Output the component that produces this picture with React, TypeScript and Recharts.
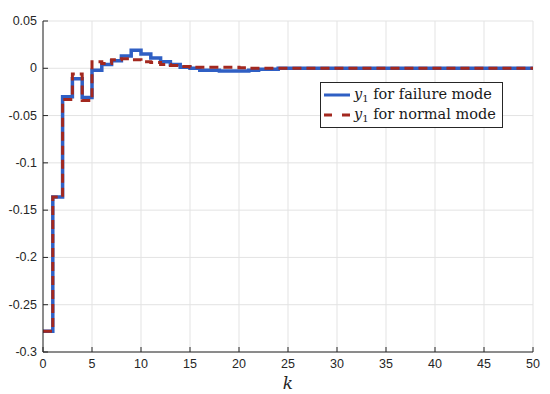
import { LineChart, Line, XAxis, YAxis, CartesianGrid, Legend, Label } from 'recharts'

// sample index k
const kValues = [
  0, 1, 2, 3, 4, 5, 6, 7, 8, 9, 10, 11, 12, 13, 14, 15, 16, 17, 18, 19, 20,
  21, 22, 23, 24, 25, 26, 27, 28, 29, 30, 31, 32, 33, 34, 35, 36, 37, 38, 39, 40,
  41, 42, 43, 44, 45, 46, 47, 48, 49, 50,
]

// y1 for failure mode (solid blue)
const failureMode = [
  -0.278, -0.136, -0.030, -0.011, -0.031, -0.002, 0.004, 0.008, 0.013, 0.019, 0.015,
  0.011, 0.007, 0.004, 0.001, 0.0, -0.002, -0.002, -0.003, -0.003, -0.003,
  -0.002, -0.001, -0.001, 0.0, 0.0, 0.0, 0.0, 0.0, 0.0, 0.0,
  0.0, 0.0, 0.0, 0.0, 0.0, 0.0, 0.0, 0.0, 0.0, 0.0,
  0.0, 0.0, 0.0, 0.0, 0.0, 0.0, 0.0, 0.0, 0.0, 0.0,
]

// y1 for normal mode (dashed red)
const normalMode = [
  -0.278, -0.136, -0.033, -0.006, -0.034, 0.007, 0.005, 0.009, 0.010, 0.009, 0.007,
  0.006, 0.004, 0.003, 0.002, 0.001, 0.001, 0.001, 0.001, 0.001, 0.0005,
  0.0, 0.0, 0.0, 0.0, 0.0, 0.0, 0.0, 0.0, 0.0, 0.0,
  0.0, 0.0, 0.0, 0.0, 0.0, 0.0, 0.0, 0.0, 0.0, 0.0,
  0.0, 0.0, 0.0, 0.0, 0.0, 0.0, 0.0, 0.0, 0.0, 0.0,
]

const xTicks = [0, 5, 10, 15, 20, 25, 30, 35, 40, 45, 50]
const yTicks = [0.05, 0, -0.05, -0.1, -0.15, -0.2, -0.25, -0.3]
const legendLabels = ['for failure mode', 'for normal mode']

const AXIS = '#262626'
const BLUE = '#2f5fc4'
const RED = '#a3281f'
const TICK_LEN = 5
const SERIF = '"DejaVu Serif", serif'

const data = kValues.map((k, i) => ({ k, failure: failureMode[i], normal: normalMode[i] }))

const BottomTick = ({ x, y, payload }: any) => (
  <g>
    <line x1={x} x2={x} y1={y} y2={y - TICK_LEN} stroke={AXIS} />
    <text x={x} y={y + 16} textAnchor="middle" fontSize={12.5} fill={AXIS} fontFamily="Liberation Sans, Arial, sans-serif">
      {payload.value}
    </text>
  </g>
)

const LeftTick = ({ x, y, payload }: any) => (
  <g>
    <line x1={x} x2={x + TICK_LEN} y1={y} y2={y} stroke={AXIS} />
    <text x={x - 6} y={y + 4} textAnchor="end" fontSize={12.5} fill={AXIS} fontFamily="Liberation Sans, Arial, sans-serif">
      {payload.value}
    </text>
  </g>
)

const TopTick = ({ x, y }: any) => <line x1={x} x2={x} y1={y} y2={y + TICK_LEN} stroke={AXIS} />

const RightTick = ({ x, y }: any) => <line x1={x} x2={x - TICK_LEN} y1={y} y2={y} stroke={AXIS} />

const LegendBox = () => (
  <div
    style={{
      width: 179,
      height: 42,
      border: `1px solid ${AXIS}`,
      background: '#fff',
      fontFamily: SERIF,
      fontSize: 14.5,
      color: '#1a1a1a',
      padding: '2px 0 0 2px',
      boxSizing: 'content-box',
      lineHeight: 1,
    }}
  >
    {legendLabels.map((label, i) => (
      <div key={label} style={{ display: 'flex', alignItems: 'center', height: 20, whiteSpace: 'nowrap' }}>
        <svg width={28} height={8} style={{ marginRight: 3 }}>
          <line
            x1={1}
            x2={27}
            y1={4}
            y2={4}
            stroke={i === 0 ? BLUE : RED}
            strokeWidth={3}
            strokeDasharray={i === 0 ? undefined : '8 10'}
          />
        </svg>
        <span style={{ fontFamily: SERIF }}>
          <i>y</i>
          <sub style={{ fontSize: 10, verticalAlign: -3 }}>1</sub> {label}
        </span>
      </div>
    ))}
  </div>
)

export default function App() {
  return (
    <div style={{ position: 'absolute', left: 0, top: 0, background: '#fff' }}>
      <LineChart width={550} height={394} data={data} margin={{ top: 21, right: 17, bottom: 0, left: 0 }}>
        <CartesianGrid stroke="#e3e3e3" />
        <XAxis
          dataKey="k"
          type="number"
          domain={[0, 50]}
          ticks={xTicks}
          height={42}
          tickSize={0}
          tickMargin={0}
          tickLine={false}
          axisLine={{ stroke: AXIS }}
          tick={<BottomTick />}
          interval={0}
        >
          <Label
            content={() => (
              <text x={288} y={389} textAnchor="middle" fontSize={17} fontStyle="italic" fill={AXIS} fontFamily={SERIF}>
                k
              </text>
            )}
          />
        </XAxis>
        <XAxis
          xAxisId="top"
          orientation="top"
          type="number"
          domain={[0, 50]}
          ticks={xTicks}
          height={0}
          tickSize={0}
          tickMargin={0}
          tickLine={false}
          axisLine={{ stroke: AXIS }}
          tick={<TopTick />}
          interval={0}
        />
        <YAxis
          type="number"
          domain={[-0.3, 0.05]}
          ticks={yTicks}
          width={43}
          tickSize={0}
          tickMargin={0}
          tickLine={false}
          axisLine={{ stroke: AXIS }}
          tick={<LeftTick />}
          interval={0}
        />
        <YAxis
          yAxisId="right"
          orientation="right"
          type="number"
          domain={[-0.3, 0.05]}
          ticks={yTicks}
          width={0}
          tickSize={0}
          tickMargin={0}
          tickLine={false}
          axisLine={{ stroke: AXIS }}
          tick={<RightTick />}
          interval={0}
        />
        <Line
          type="stepAfter"
          dataKey="failure"
          stroke={BLUE}
          strokeWidth={3.5}
          dot={false}
          isAnimationActive={false}
        />
        <Line
          type="stepAfter"
          dataKey="normal"
          stroke={RED}
          strokeWidth={3}
          strokeDasharray="9 5"
          dot={false}
          isAnimationActive={false}
        />
        <Legend
          layout="horizontal"
          verticalAlign="middle"
          align="center"
          content={<LegendBox />}
          wrapperStyle={{ left: 320, top: 82, width: 'auto' }}
        />
      </LineChart>
    </div>
  )
}
